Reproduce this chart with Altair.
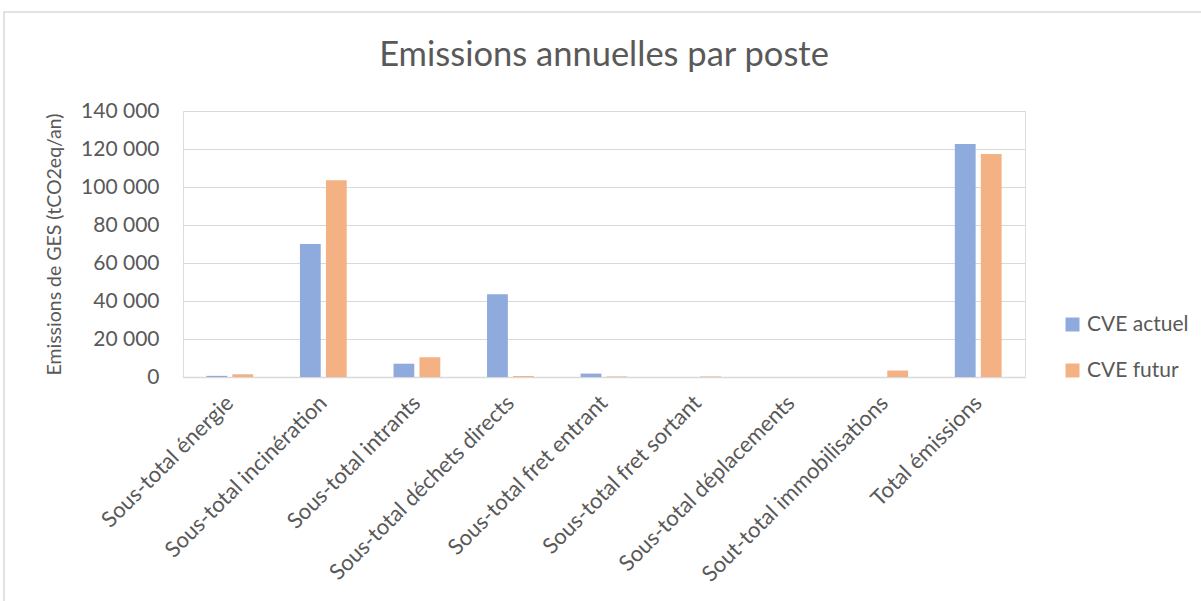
import altair as alt
import pandas as pd

categories = [
    "Sous-total énergie",
    "Sous-total incinération",
    "Sous-total intrants",
    "Sous-total déchets directs",
    "Sous-total fret entrant",
    "Sous-total fret sortant",
    "Sous-total déplacements",
    "Sout-total immobilisations",
    "Total émissions",
]
series = ["CVE actuel", "CVE futur"]
actuel = [600, 70000, 7000, 43500, 1800, 0, 0, 0, 122600]
futur = [1500, 103500, 10400, 500, 300, 300, 0, 3400, 117400]
colors = ["#8FAADC", "#F4B183"]

rows = []
for c, a, f in zip(categories, actuel, futur):
    rows.append({"cat": c, "serie": series[0], "val": a})
    rows.append({"cat": c, "serie": series[1], "val": f})
df = pd.DataFrame(rows)

FONT = "Lato"
GREY = "#595959"

bars = alt.Chart(df).mark_bar().encode(
    x=alt.X("cat:N", sort=categories, title=None,
            scale=alt.Scale(paddingInner=0.5, paddingOuter=0.25),
            axis=alt.Axis(labelAngle=-45, labelAlign="right", labelBaseline="middle",
                          labelFontSize=22, labelColor=GREY, labelFont=FONT,
                          labelPadding=22, ticks=False, domainColor="#D9D9D9",
                          domainWidth=1.5, labelLimit=400)),
    xOffset=alt.XOffset("serie:N", sort=series,
                        scale=alt.Scale(paddingInner=0.2, paddingOuter=0)),
    y=alt.Y("val:Q", title="Emissions de GES (tCO2eq/an)",
            scale=alt.Scale(domain=[0, 140000], nice=False),
            axis=alt.Axis(values=list(range(0, 140001, 20000)), format=",d",
                          labelExpr="replace(format(datum.value, ',d'), ',', ' ')",
                          labelFontSize=21, labelColor=GREY, labelFont=FONT,
                          titleFontSize=19.5, titleColor=GREY, titleFont=FONT,
                          titleFontWeight="normal", titlePadding=16,
                          labelPadding=24, ticks=False, domain=False,
                          gridColor="#D9D9D9", gridWidth=1.2)),
    color=alt.Color("serie:N", sort=series,
                    scale=alt.Scale(domain=series, range=colors),
                    legend=alt.Legend(title=None, orient="none", legendX=879, legendY=203,
                                      symbolType="square", symbolSize=196,
                                      symbolStrokeWidth=0,
                                      labelFontSize=21, labelColor=GREY, labelFont=FONT,
                                      labelOffset=4, rowPadding=24)),
)

frame = alt.Chart(pd.DataFrame({"a": [0]})).mark_rect(
    fill=None, stroke="#D9D9D9", strokeWidth=1.5
).encode(x=alt.value(-179), x2=alt.value(1100), y=alt.value(-99), y2=alt.value(600))

chart = alt.layer(frame, bars).properties(
    width=842, height=266,
    title=alt.Title("Emissions annuelles par poste", fontSize=34.5, color=GREY,
                    font=FONT, fontWeight="normal", offset=-62, frame="group"),
    autosize=alt.AutoSizeParams(type="none"),
    padding={"left": 183, "top": 111, "right": 176, "bottom": 224},
).configure_view(stroke=None).configure(background="white")

chart.save("out.html", embed_options={"renderer": "svg", "actions": False})
